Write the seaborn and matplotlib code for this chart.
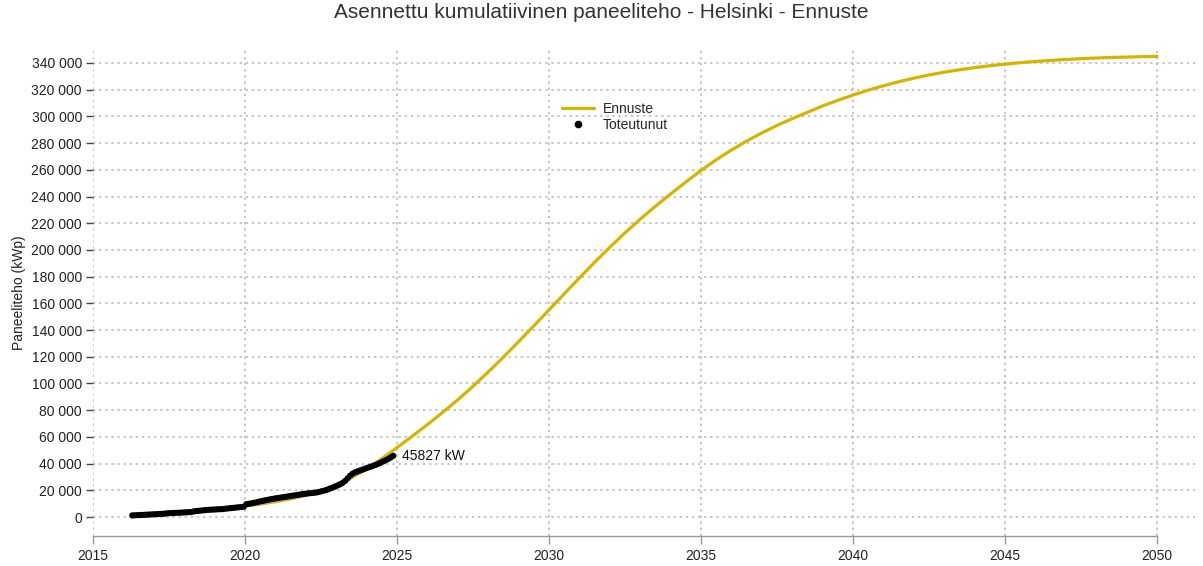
import numpy as np
import pandas as pd
import matplotlib
matplotlib.use("Agg")
import matplotlib.pyplot as plt
import seaborn as sns
from matplotlib.ticker import FuncFormatter
from matplotlib.lines import Line2D

# ---------------- data ----------------
forecast_years = [2016.5 + 0.5 * i for i in range(68)]
forecast_values = [
    2000, 2600, 3300, 4100, 5000, 6000, 7000, 8200, 9700,
    11500, 13600, 16200, 19500, 24000, 29500, 36000, 43700, 52000, 60500,
    69200, 78300, 87800, 97900, 108600, 119700, 131300, 143100, 155100, 167100,
    179000, 190700, 202000, 212800, 223000, 232700, 241900, 250800, 259500, 267500,
    274800, 281500, 287600, 293200, 298300, 303000, 307800, 312000, 316000, 319600,
    322900, 325900, 328600, 331000, 333100, 334900, 336500, 337900, 339100, 340200,
    341100, 341900, 342600, 343200, 343700, 344100, 344400, 344700, 344900,
]

# monthly observations, April 2016 .. November 2024 (kW)
actual_start_year = 2016
actual_start_month = 4
actual_values = [
    1200, 1300, 1400, 1500, 1600, 1700, 1800, 1900, 2000,
    2100, 2200, 2300, 2400, 2600, 2800, 2900, 3000, 3100, 3200, 3300, 3400,
    3500, 3600, 3700, 4100, 4400, 4600, 4800, 5000, 5200, 5400, 5500, 5600,
    5700, 5800, 5900, 6000, 6300, 6500, 6700, 6900, 7100, 7300, 7500, 7700,
    9600, 9900, 10200, 10600, 11000, 11500, 11900, 12300, 12700, 13100, 13500, 13800,
    14100, 14400, 14700, 15000, 15300, 15600, 15900, 16200, 16500, 16800, 17100, 17400,
    17600, 17800, 18000, 18200, 18500, 18900, 19500, 19900, 20500, 21300, 22000, 22800,
    23600, 24500, 25500, 27000, 29000, 31000, 32500, 33500, 34200, 34900, 35600, 36300,
    37000, 37600, 38300, 39000, 39800, 40700, 41600, 42500, 43500, 44600, 45827,
]

title = "Asennettu kumulatiivinen paneeliteho - Helsinki - Ennuste"
ylabel = "Paneeliteho (kWp)"
legend_labels = ["Ennuste", "Toteutunut"]
x_ticks = list(range(2015, 2051, 5))
y_ticks = list(range(0, 340001, 20000))

# ---------------- build frames ----------------
df_fc = pd.DataFrame({"year": forecast_years, "value": forecast_values})
n_act = len(actual_values)
act_x = [actual_start_year + (actual_start_month - 1 + i + 0.5) / 12.0 for i in range(n_act)]
df_act = pd.DataFrame({"year": act_x, "value": actual_values})

# ---------------- style ----------------
sns.set_theme(style="white")
plt.rcParams["font.family"] = ["Liberation Sans", "DejaVu Sans"]

W, H = 1203, 566
fig = plt.figure(figsize=(W / 100, H / 100), dpi=100)
left_px, right_px, top_px, bottom_px = 93, 1195, 49.6, 536
ax = fig.add_axes([left_px / W, 1 - bottom_px / H,
                   (right_px - left_px) / W, (bottom_px - top_px) / H])

gold = "#d8b400"
sns.lineplot(data=df_fc, x="year", y="value", ax=ax, color=gold, linewidth=2.3,
             legend=False, zorder=2)
sns.scatterplot(data=df_act, x="year", y="value", ax=ax, color="black", s=20,
                edgecolor="none", legend=False, zorder=3)

ax.set_xlim(2015, 2051.25)
ax.set_ylim(-14200, 350000)
ax.set_xticks(x_ticks)
ax.set_yticks(y_ticks)
ax.yaxis.set_major_formatter(FuncFormatter(lambda v, p: f"{int(v):,}".replace(",", " ")))

ax.grid(True, color="#b5b5b5", linestyle=(0, (1.5, 2.5)), linewidth=1.1)
ax.set_axisbelow(True)

for s in ["top", "right", "left"]:
    ax.spines[s].set_visible(False)
ax.spines["bottom"].set_bounds(2015, 2050)
ax.spines["bottom"].set_color("#999999")
ax.spines["bottom"].set_linewidth(1.0)

ax.tick_params(axis="x", direction="out", length=6, width=1, color="#999999",
               labelsize=10, labelcolor="#222222", pad=3, bottom=True)
ax.tick_params(axis="y", direction="out", length=5, width=1, color="#444444",
               labelsize=10, labelcolor="#222222", pad=3, left=True)

ax.set_xlabel("")
ax.set_ylabel(ylabel, fontsize=10, color="#222222", labelpad=4)
fig.suptitle(title, x=0.5, y=0.995, fontsize=15, color="#333333")

# annotation of last actual value
ax.annotate(f"{actual_values[-1]} kW", xy=(act_x[-1], actual_values[-1]),
            xytext=(6, 0), textcoords="offset points", va="center", ha="left",
            fontsize=10, color="#111111")

handles = [
    Line2D([0], [0], color=gold, linewidth=2.3),
    Line2D([0], [0], color="black", marker="o", linestyle="none", markersize=4.5),
]
ax.legend(handles, legend_labels, loc="upper left",
          bbox_to_anchor=((556 - left_px) / (right_px - left_px), (bottom_px - 96) / (bottom_px - top_px)),
          frameon=False, fontsize=10, handlelength=2.3, handletextpad=0.7,
          labelspacing=0.15, borderaxespad=0)

fig.savefig("out.png", dpi=100)
